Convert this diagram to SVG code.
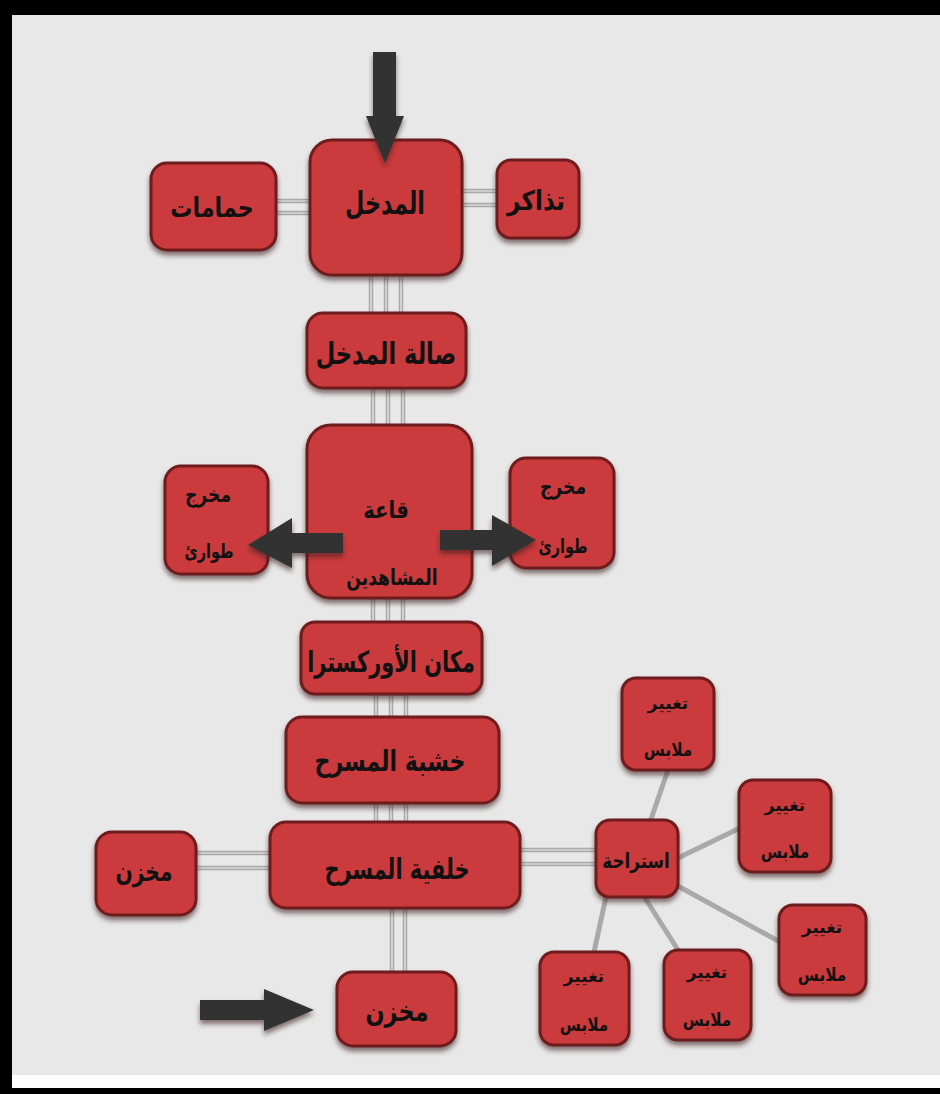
<svg xmlns="http://www.w3.org/2000/svg" width="940" height="1094" viewBox="0 0 940 1094">
<defs>
<filter id="sh" x="-20%" y="-20%" width="140%" height="150%">
<feDropShadow dx="0" dy="4" stdDeviation="2.5" flood-color="#3a2020" flood-opacity="0.6"/>
</filter>
</defs>
<style>
.n{fill:#cb3b3e;stroke:#6e1c1e;stroke-width:3;filter:url(#sh)}
.t{font-family:"DejaVu Sans",sans-serif;font-weight:bold;fill:#111;text-anchor:middle;direction:rtl}
.p{stroke:#a9a9a9;stroke-width:4.5;fill:none}
.pi{stroke:#ededed;stroke-width:1.2;fill:none}
.s{stroke:#a9a9a9;stroke-width:5;fill:none}
.ar{fill:#333;filter:url(#sh)}
</style>
<rect x="0" y="0" width="940" height="1094" fill="#000"/>
<rect x="12" y="15" width="928" height="1073" fill="#fdfdfd"/>
<rect x="12" y="15" width="928" height="1060" fill="#e8e8e8"/>

<g id="connectors">
<g>
<path class="p" d="M371 275V313M386 275V313M401 275V313"/>
<path class="p" d="M373 388V425M388 388V425M403 388V425"/>
<path class="p" d="M373 598V622M388 598V622M403 598V622"/>
<path class="p" d="M376 694V717M391 694V717M406 694V717"/>
<path class="p" d="M376 803V822M391 803V822M406 803V822"/>
<path class="p" d="M392 908V972M405 908V972"/>
<path class="p" d="M276 201H310M276 213H310"/>
<path class="p" d="M462 191H497M462 205H497"/>
<path class="p" d="M196 853H270M196 868H270"/>
<path class="p" d="M520 850H596M520 864H596"/>
</g>
<g>
<path class="pi" d="M371 275V313M386 275V313M401 275V313"/>
<path class="pi" d="M373 388V425M388 388V425M403 388V425"/>
<path class="pi" d="M373 598V622M388 598V622M403 598V622"/>
<path class="pi" d="M376 694V717M391 694V717M406 694V717"/>
<path class="pi" d="M376 803V822M391 803V822M406 803V822"/>
<path class="pi" d="M392 908V972M405 908V972"/>
<path class="pi" d="M276 201H310M276 213H310"/>
<path class="pi" d="M462 191H497M462 205H497"/>
<path class="pi" d="M196 853H270M196 868H270"/>
<path class="pi" d="M520 850H596M520 864H596"/>
</g>
<path class="s" d="M650 822L668 770M678 858L740 828M676 885L780 942M645 898L678 950M606 897L594 952"/>
</g>

<g id="n-entrance"><rect class="n" x="310" y="140" width="152" height="135" rx="22"/><text class="t" transform="translate(385 214) scale(0.72 1)" font-size="31">المدخل</text></g>
<g id="n-wc"><rect class="n" x="151" y="163" width="125" height="87" rx="16"/><text class="t" transform="translate(212 217) scale(0.82 1)" font-size="27">حمامات</text></g>
<g id="n-tickets"><rect class="n" x="497" y="160" width="82" height="78" rx="14"/><text class="t" transform="translate(536 210) scale(0.86 1)" font-size="27">تذاكر</text></g>
<g id="n-lobby"><rect class="n" x="307" y="313" width="159" height="75" rx="16"/><text class="t" transform="translate(386 364) scale(0.75 1)" font-size="30">صالة المدخل</text></g>
<g id="n-hall"><rect class="n" x="307" y="425" width="165" height="173" rx="24"/><text class="t" transform="translate(386 518) scale(0.82 1)" font-size="24">قاعة</text><text class="t" transform="translate(392 585) scale(0.78 1)" font-size="22">المشاهدين</text></g>
<g id="n-exit-l"><rect class="n" x="165" y="466" width="103" height="108" rx="16"/><text class="t" transform="translate(208 502) scale(0.78 1)" font-size="22">مخرج</text><text class="t" transform="translate(209 558) scale(0.72 1)" font-size="20">طوارئ</text></g>
<g id="n-exit-r"><rect class="n" x="510" y="458" width="104" height="110" rx="16"/><text class="t" transform="translate(563 494) scale(0.78 1)" font-size="22">مخرج</text><text class="t" transform="translate(563 553) scale(0.72 1)" font-size="20">طوارئ</text></g>
<g id="n-orch"><rect class="n" x="301" y="622" width="181" height="72" rx="14"/><text class="t" transform="translate(391 672) scale(0.72 1)" font-size="29">مكان الأوركسترا</text></g>
<g id="n-stage"><rect class="n" x="286" y="717" width="213" height="86" rx="16"/><text class="t" transform="translate(390 771) scale(0.76 1)" font-size="29">خشبة المسرح</text></g>
<g id="n-back"><rect class="n" x="270" y="822" width="250" height="86" rx="16"/><text class="t" transform="translate(397 879) scale(0.72 1)" font-size="29">خلفية المسرح</text></g>
<g id="n-store-l"><rect class="n" x="96" y="832" width="100" height="83" rx="16"/><text class="t" transform="translate(144 881) scale(0.75 1)" font-size="27">مخزن</text></g>
<g id="n-store-b"><rect class="n" x="337" y="972" width="119" height="74" rx="16"/><text class="t" transform="translate(397 1021) scale(0.8 1)" font-size="28">مخزن</text></g>
<g id="n-rest"><rect class="n" x="596" y="820" width="82" height="77" rx="14"/><text class="t" transform="translate(636 868) scale(0.8 1)" font-size="21">استراحة</text></g>
<g id="n-dress1"><rect class="n" x="622" y="678" width="92" height="92" rx="14"/><text class="t" transform="translate(668 709)" font-size="17">تغيير</text><text class="t" transform="translate(668 756) scale(0.85 1)" font-size="18">ملابس</text></g>
<g id="n-dress2"><rect class="n" x="739" y="780" width="92" height="92" rx="14"/><text class="t" transform="translate(785 811)" font-size="17">تغيير</text><text class="t" transform="translate(785 858) scale(0.85 1)" font-size="18">ملابس</text></g>
<g id="n-dress3"><rect class="n" x="779" y="905" width="87" height="90" rx="14"/><text class="t" transform="translate(822 933)" font-size="17">تغيير</text><text class="t" transform="translate(822 981) scale(0.85 1)" font-size="18">ملابس</text></g>
<g id="n-dress4"><rect class="n" x="664" y="950" width="87" height="90" rx="14"/><text class="t" transform="translate(707 978)" font-size="17">تغيير</text><text class="t" transform="translate(707 1026) scale(0.85 1)" font-size="18">ملابس</text></g>
<g id="n-dress5"><rect class="n" x="540" y="952" width="89" height="93" rx="14"/><text class="t" transform="translate(584 982)" font-size="17">تغيير</text><text class="t" transform="translate(584 1031) scale(0.85 1)" font-size="18">ملابس</text></g>

<g id="arrows">
<path class="ar" d="M373 52H396V116H404L385 163L366 116H373Z"/>
<path class="ar" d="M343 533V553H292V568L248 545L292 518V533Z" fill="#2b2b2b"/>
<path class="ar" d="M440 530H492V515L536 540L492 566V550H440Z" fill="#2b2b2b"/>
<path class="ar" d="M200 1000H264V989L314 1010L264 1031V1020H200Z"/>
</g>
</svg>
